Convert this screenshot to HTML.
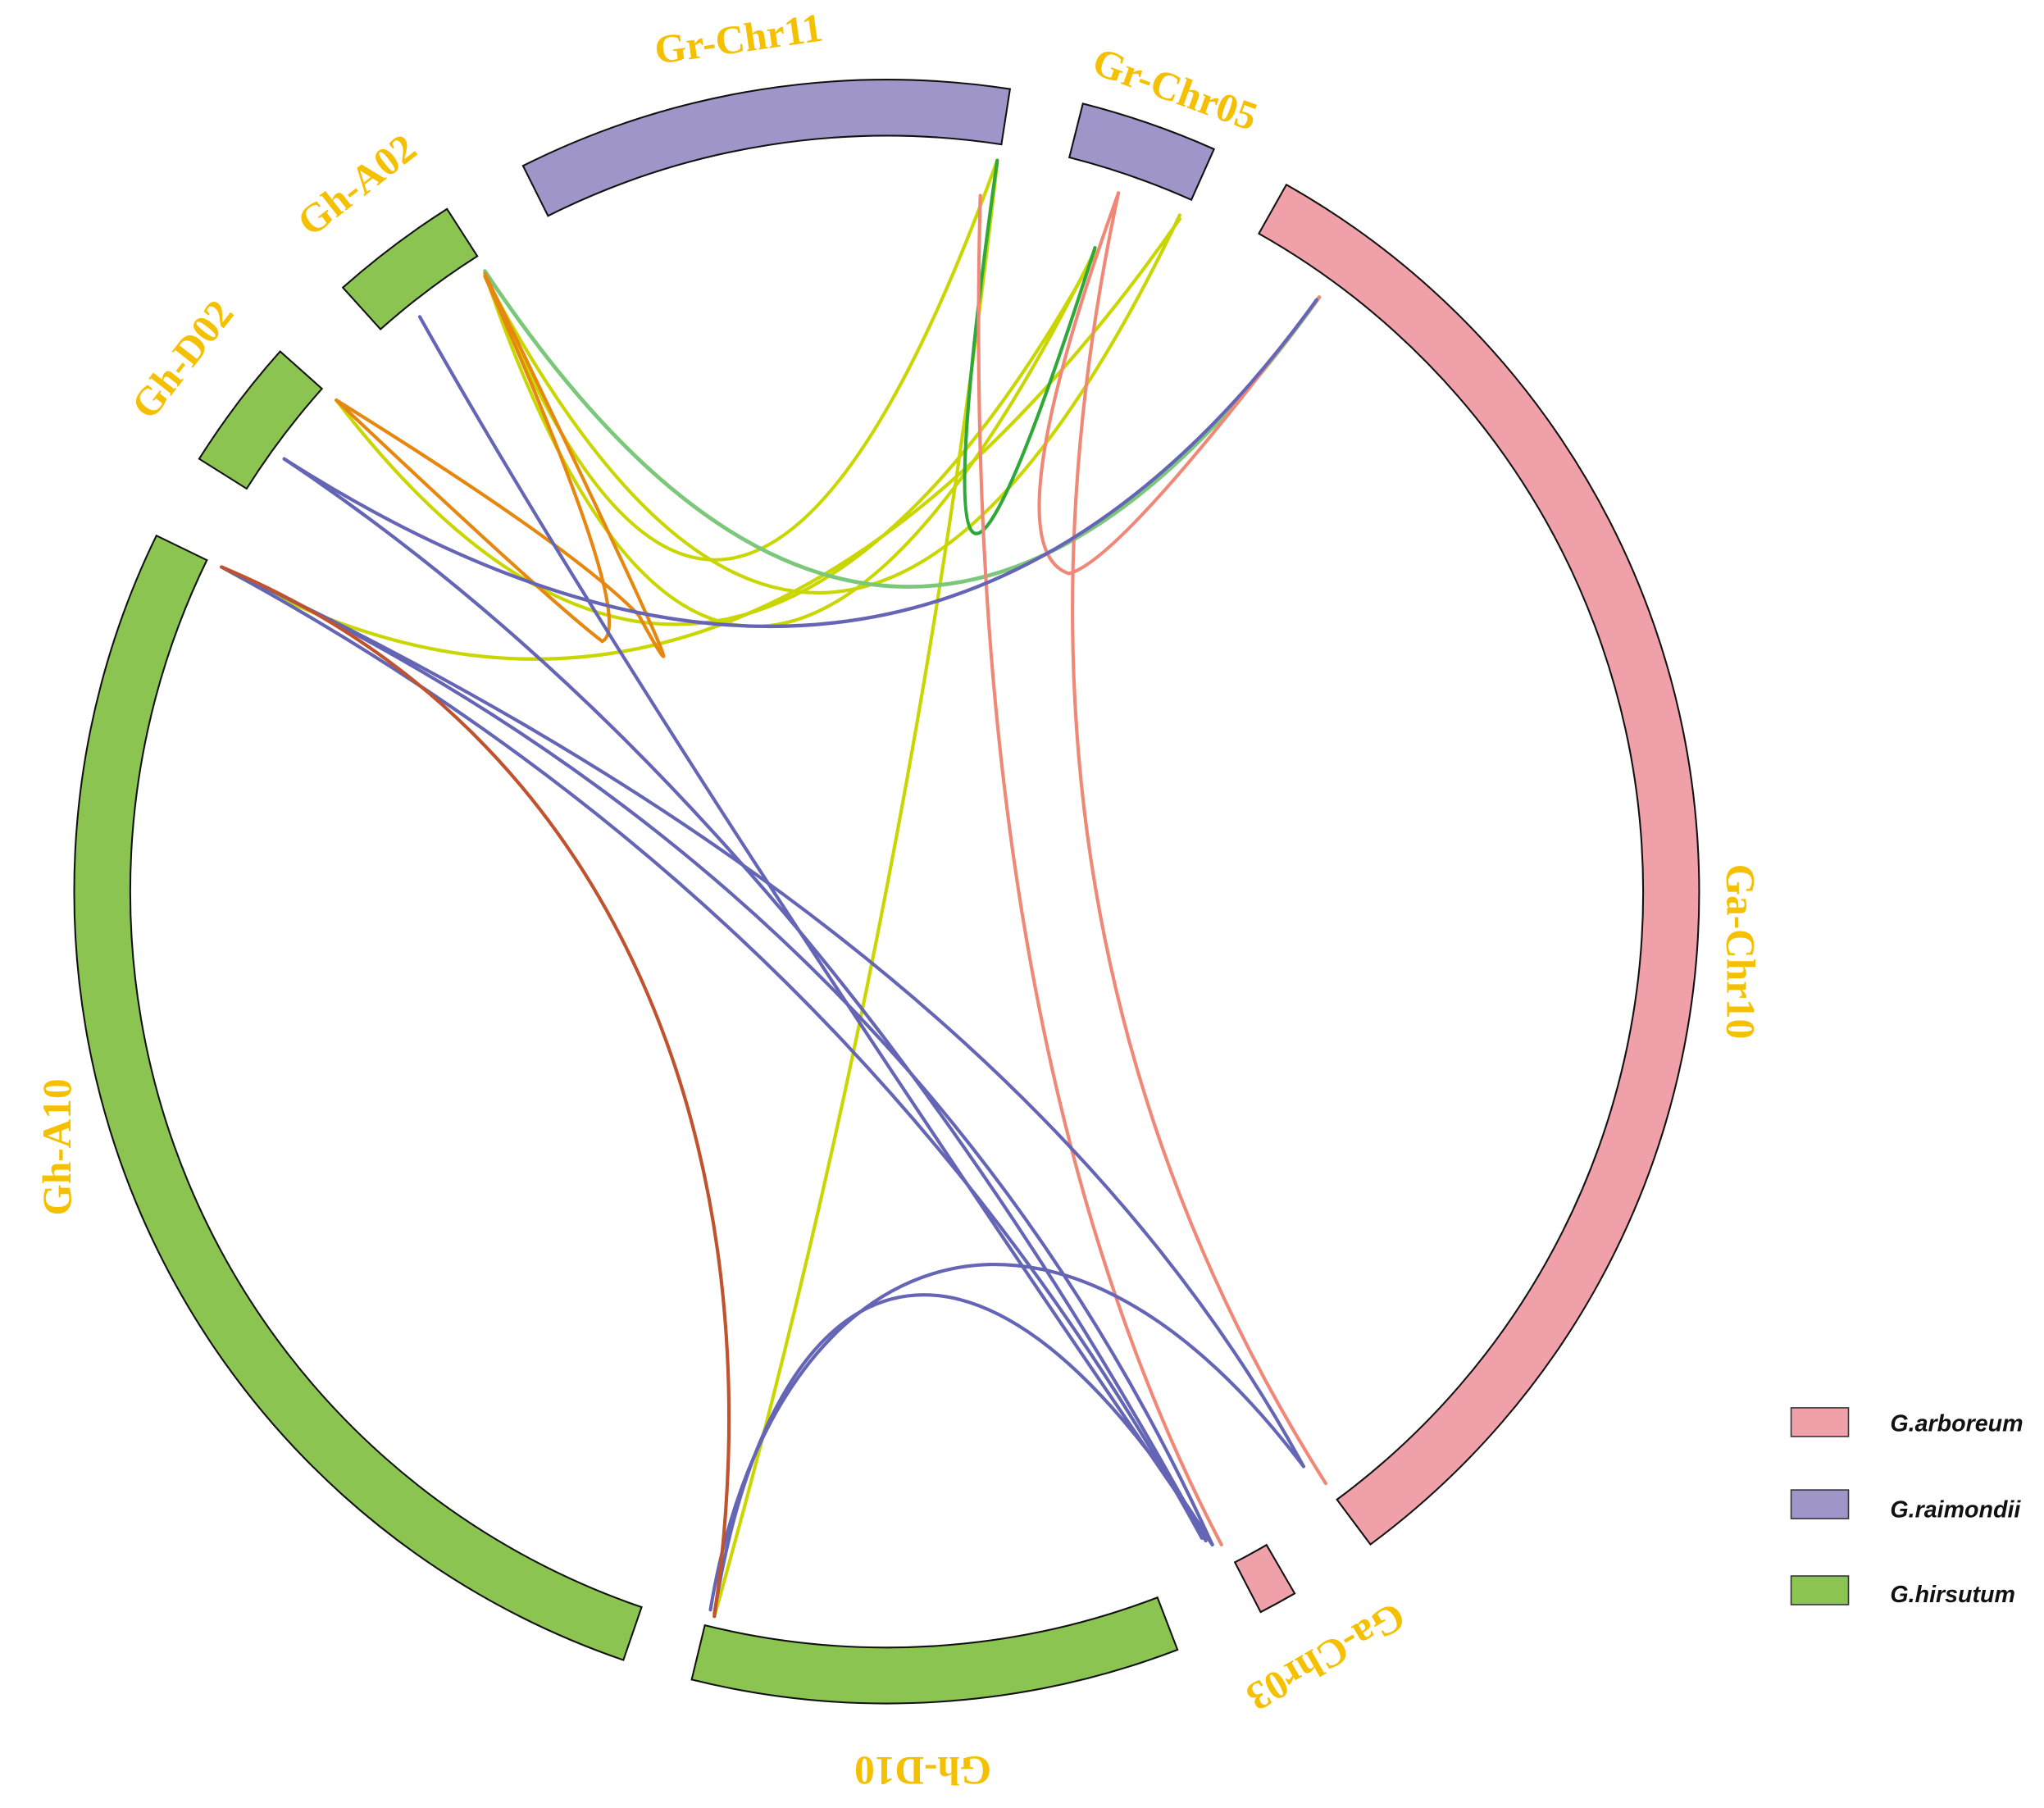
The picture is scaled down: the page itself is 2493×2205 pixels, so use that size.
<!DOCTYPE html>
<html><head><meta charset="utf-8">
<style>html,body{margin:0;padding:0;background:#fff}svg{display:block}</style>
</head><body>
<svg width="2493" height="2205" viewBox="0 0 1568 1387" preserveAspectRatio="none" xmlns="http://www.w3.org/2000/svg">
<g stroke="#111" stroke-width="1.3">
<path d="M401.2,127.2 A623,623 0 0 1 774.8,68.3 L768.2,110.8 A580,580 0 0 0 420.4,165.6 Z" fill="#a095c8"/>
<path d="M830.7,79.5 A623,623 0 0 1 931.3,114.4 L913.9,153.3 A580,580 0 0 0 820.3,120.8 Z" fill="#a095c8"/>
<path d="M986.8,141.7 A623,623 0 0 1 1051.3,1184.8 L1025.6,1150.4 A580,580 0 0 0 965.7,179.2 Z" fill="#f0a0a8"/>
<path d="M993.2,1222.4 A623,623 0 0 1 967.1,1236.7 L947.3,1198.5 A580,580 0 0 0 971.6,1185.2 Z" fill="#f0a0a8"/>
<path d="M903.3,1265.6 A623,623 0 0 1 530.6,1288.5 L540.7,1246.8 A580,580 0 0 0 887.9,1225.5 Z" fill="#8bc450"/>
<path d="M478.2,1273.5 A623,623 0 0 1 120.0,410.9 L158.7,429.7 A580,580 0 0 0 492.2,1232.9 Z" fill="#8bc450"/>
<path d="M152.8,352.0 A623,623 0 0 1 214.9,269.6 L247.0,298.2 A580,580 0 0 0 189.2,374.9 Z" fill="#8bc450"/>
<path d="M263.0,220.6 A623,623 0 0 1 342.9,160.3 L366.2,196.5 A580,580 0 0 0 291.9,252.6 Z" fill="#8bc450"/>
</g>
<g fill="none" stroke-width="2.6" stroke-linecap="round">
  <path d="M372,208 Q560,690 765,123" stroke="#c9d600"/>
  <path d="M372,210 Q560,760 840,192" stroke="#c9d600"/>
  <path d="M372,212 Q640,720 905,165" stroke="#c9d600"/>
  <path d="M258,307 Q560,700 840,195" stroke="#c9d600"/>
  <path d="M170,435 Q560,660 905,168" stroke="#c9d600"/>
  <path d="M765,125 Q700,700 548,1240" stroke="#c9d600"/>
  <path d="M372,208 Q688,682 1012,228" stroke="#7cc87a" stroke-width="3"/>
  <path d="M765,123 Q690,660 840,190" stroke="#2fa83a"/>
  <path d="M372,210 Q560,600 490,472 Q440,420 258,307" stroke="#e6870f"/>
  <path d="M258,307 Q420,460 462,492 Q490,478 372,212" stroke="#e6870f"/>
  <path d="M858,148 Q760,420 820,440 Q860,430 1012,228" stroke="#f08878"/>
  <path d="M858,148 Q740,700 1017,1138" stroke="#f08878"/>
  <path d="M752,150 Q735,800 937,1185" stroke="#f08878"/>
  <path d="M218,352 Q700,660 1010,230" stroke="#6565b5"/>
  <path d="M322,243 Q500,560 930,1185" stroke="#6565b5"/>
  <path d="M218,352 Q620,620 925,1182" stroke="#6565b5"/>
  <path d="M170,435 Q780,720 1000,1125" stroke="#6565b5"/>
  <path d="M170,435 Q700,680 930,1185" stroke="#6565b5"/>
  <path d="M170,435 Q660,700 922,1180" stroke="#6565b5"/>
  <path d="M545,1235 C590,960 800,860 1000,1125" stroke="#6565b5"/>
  <path d="M548,1238 C590,970 740,880 930,1185" stroke="#6565b5"/>
  <path d="M170,435 C470,560 600,880 548,1240" stroke="#c0522d"/>
</g>
<g fill="#f5c000" font-family="'Liberation Serif',serif" font-weight="bold" font-size="31" text-anchor="middle">
  <text transform="translate(568,40) rotate(-8)">Gr-Chr11</text>
  <text transform="translate(898,78) rotate(20)">Gr-Chr05</text>
  <text transform="translate(1325,730) rotate(90)">Ga-Chr10</text>
  <text transform="translate(1012,1262) rotate(150)">Ga-Chr03</text>
  <text transform="translate(708,1348) rotate(180)">Gh-D10</text>
  <text transform="translate(54,880) rotate(-90)">Gh-A10</text>
  <text transform="translate(148,282) rotate(-52)">Gh-D02</text>
  <text transform="translate(280,150) rotate(-38)">Gh-A02</text>
</g>
<g stroke="#333" stroke-width="1">
  <rect x="1374" y="1080" width="44" height="22" fill="#f0a0a8"/>
  <rect x="1374" y="1143" width="44" height="22" fill="#a095c8"/>
  <rect x="1374" y="1209" width="44" height="22" fill="#8bc450"/>
</g>
<g font-family="'Liberation Sans',sans-serif" font-style="italic" font-weight="bold" font-size="18" fill="#111">
  <text x="1450" y="1098">G.arboreum</text>
  <text x="1450" y="1164">G.raimondii</text>
  <text x="1450" y="1229">G.hirsutum</text>
</g>
</svg>
</body></html>
